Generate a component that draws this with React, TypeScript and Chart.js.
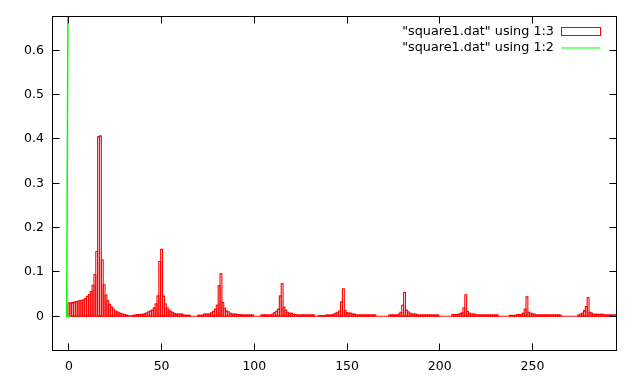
import React, { useEffect, useRef } from 'react';
import { Chart, registerables } from 'chart.js';

Chart.register(...registerables);

// ---- data -------------------------------------------------------------
const X_TICKS = [0, 50, 100, 150, 200, 250];
const Y_TICKS = [0, 0.1, 0.2, 0.3, 0.4, 0.5, 0.6];
const X_MIN = -8.84;
const X_MAX = 295.3;
const Y_MIN = -0.0772;
const Y_MAX = 0.6763;

const LABEL_COL3 = '"square1.dat" using 1:3';
const LABEL_COL2 = '"square1.dat" using 1:2';

// column 3 (boxes), one value per x = 0, 1, 2, ...
const COL3 = [
  0.030, 0.030, 0.031, 0.032, 0.033, 0.034, 0.035, 0.036, 0.037, 0.040,
  0.045, 0.049, 0.056, 0.070, 0.094, 0.146, 0.405, 0.407, 0.127, 0.071,
  0.048, 0.035, 0.027, 0.021, 0.016, 0.012, 0.010, 0.008, 0.006, 0.005,
  0.004, 0.003, 0.0015, 0, 0.0015, 0.002, 0.003, 0.004, 0.004, 0.004,
  0.0045, 0.006, 0.0076, 0.010, 0.012, 0.014, 0.019, 0.028, 0.046, 0.1235,
  0.151, 0.046, 0.028, 0.019, 0.0144, 0.011, 0.0083, 0.006, 0.005, 0.005,
  0.005, 0.005, 0.0025, 0.0023, 0.0023, 0.002, 0, 0, 0, 0,
  0.0023, 0.0023, 0.0023, 0.005, 0.005, 0.005, 0.005, 0.008, 0.011, 0.016,
  0.025, 0.069, 0.096, 0.031, 0.018, 0.012, 0.010, 0.007, 0.005, 0.005,
  0.005, 0.004, 0.004, 0.003, 0.003, 0.003, 0.003, 0.003, 0.003, 0.003,
  0, 0, 0, 0, 0.003, 0.003, 0.003, 0.003, 0.003, 0.003,
  0.0053, 0.0083, 0.0114, 0.016, 0.046, 0.0735, 0.0205, 0.014, 0.009, 0.0068,
  0.0068, 0.0045, 0.0045, 0.003, 0.003, 0.003, 0.003, 0.003, 0.003, 0.003,
  0.003, 0.003, 0.003, 0, 0, 0.0015, 0.0015, 0.0015, 0.0015, 0.003,
  0.003, 0.003, 0.003, 0.005, 0.007, 0.009, 0.012, 0.0326, 0.062, 0.013,
  0.008, 0.007, 0.007, 0.005, 0.005, 0.003, 0.003, 0.003, 0.003, 0.003,
  0.003, 0.003, 0.003, 0.003, 0.003, 0.003, 0, 0, 0, 0,
  0, 0, 0, 0.003, 0.003, 0.003, 0.003, 0.003, 0.005, 0.009,
  0.025, 0.054, 0.014, 0.010, 0.007, 0.005, 0.005, 0.005, 0.003, 0.003,
  0.003, 0.003, 0.003, 0.003, 0.003, 0.003, 0.003, 0.003, 0.003, 0.003,
  0, 0, 0, 0, 0, 0, 0, 0.004, 0.004, 0.004,
  0.004, 0.006, 0.008, 0.019, 0.0485, 0.011, 0.007, 0.005, 0.005, 0.005,
  0.003, 0.003, 0.003, 0.003, 0.003, 0.003, 0.003, 0.003, 0.003, 0.003,
  0.003, 0.003, 0, 0, 0, 0, 0, 0, 0.002, 0.002,
  0.002, 0.002, 0.004, 0.004, 0.004, 0.007, 0.016, 0.044, 0.009, 0.007,
  0.005, 0.005, 0.003, 0.003, 0.003, 0.003, 0.003, 0.003, 0.003, 0.003,
  0.003, 0.003, 0.003, 0.003, 0.003, 0.003, 0, 0, 0, 0,
  0, 0, 0, 0, 0, 0.003, 0.005, 0.007, 0.013, 0.022,
  0.042, 0.009, 0.007, 0.0045, 0.0045, 0.0045, 0.0045, 0.0045, 0.0045, 0.003,
  0.003, 0.003, 0.003, 0.003, 0.003, 0.003,
];

// column 2 (line)
const COL2_X = [0.8, -1.2, 0];
const COL2_Y = [0, 0, 1.2];

const RED = '#ff0000';
const GREEN = '#00ff00';
const FONT = 'DejaVu Sans';
const FONT_SIZE = 12.5;
const KEY_FONT_SIZE = 12.8;

// ---- plugins ----------------------------------------------------------
const boxesPlugin = {
  id: 'gnuBoxes',
  afterDatasetDraw(chart: any, args: any) {
    if (args.index !== 0) return;
    const { ctx, chartArea } = chart;
    const meta = chart.getDatasetMeta(0);
    ctx.save();
    ctx.beginPath();
    ctx.rect(chartArea.left, chartArea.top, chartArea.right - chartArea.left, chartArea.bottom - chartArea.top);
    ctx.clip();
    ctx.strokeStyle = RED;
    ctx.lineWidth = 1.1;
    meta.data.forEach((el: any) => {
      const p = el.getProps(['x', 'y', 'base', 'width'], true);
      ctx.strokeRect(p.x - p.width / 2, p.y, p.width, p.base - p.y);
    });
    ctx.restore();
  },
};

const framePlugin = {
  id: 'gnuFrame',
  afterDraw(chart: any) {
    const { ctx, chartArea, scales } = chart;
    const { left, right, top, bottom } = chartArea;
    const tl = 7;
    ctx.save();
    ctx.strokeStyle = '#000';
    ctx.lineWidth = 1;
    ctx.strokeRect(left, top, right - left, bottom - top);
    ctx.beginPath();
    Y_TICKS.forEach((v) => {
      const py = Math.round(scales.y.getPixelForValue(v) - 0.5) + 0.5;
      ctx.moveTo(left, py);
      ctx.lineTo(left + tl, py);
      ctx.moveTo(right, py);
      ctx.lineTo(right - tl, py);
    });
    X_TICKS.forEach((v) => {
      const px = Math.round(scales.x.getPixelForValue(v) - 0.5) + 0.5;
      ctx.moveTo(px, bottom);
      ctx.lineTo(px, bottom - tl);
      ctx.moveTo(px, top);
      ctx.lineTo(px, top + tl);
    });
    ctx.stroke();

    // key (top right)
    ctx.font = `${KEY_FONT_SIZE}px "${FONT}"`;
    ctx.fillStyle = '#000';
    ctx.textAlign = 'right';
    ctx.textBaseline = 'middle';
    const tx = right - 62.5;
    const y1 = top + 15;
    const y2 = top + 31;
    ctx.fillText(LABEL_COL3, tx, y1);
    ctx.fillText(LABEL_COL2, tx, y2);
    const sx0 = tx + 7.5;
    const sx1 = sx0 + 39;
    ctx.strokeStyle = RED;
    ctx.strokeRect(sx0, y1 - 4, sx1 - sx0, 8);
    ctx.strokeStyle = GREEN;
    ctx.beginPath();
    ctx.moveTo(sx0, y2 + 0.5);
    ctx.lineTo(sx1, y2 + 0.5);
    ctx.stroke();
    ctx.restore();
  },
};

// ---- component --------------------------------------------------------
export default function App() {
  const ref = useRef<HTMLCanvasElement | null>(null);

  useEffect(() => {
    if (!ref.current) return;
    Chart.defaults.font.family = FONT;
    Chart.defaults.font.size = FONT_SIZE;
    Chart.defaults.color = '#000';

    const boxData = COL3.map((v, i) => ({ x: i, y: v }));
    const lineData = COL2_X.map((x, i) => ({ x, y: COL2_Y[i] }));

    const chart = new Chart(ref.current, {
      type: 'bar',
      data: {
        datasets: [
          {
            type: 'bar',
            label: LABEL_COL3,
            data: boxData as any,
            backgroundColor: 'rgba(0,0,0,0)',
            borderWidth: 0,
            barPercentage: 1,
            categoryPercentage: 1,
            order: 2,
          },
          {
            type: 'line',
            label: LABEL_COL2,
            data: lineData as any,
            borderColor: GREEN,
            borderWidth: 1.5,
            pointRadius: 0,
            fill: false,
            tension: 0,
            order: 1,
          },
        ],
      },
      options: {
        animation: false,
        responsive: false,
        devicePixelRatio: 1,
        events: [],
        layout: { padding: { left: 0, right: 23.5, top: 16.5, bottom: 0 } },
        plugins: {
          legend: { display: false },
          tooltip: { enabled: false },
        },
        scales: {
          x: {
            type: 'linear',
            min: X_MIN,
            max: X_MAX,
            offset: false,
            grid: { display: false, drawTicks: false },
            border: { display: false },
            ticks: {
              padding: 9,
              maxRotation: 0,
              autoSkip: false,
              callback: (v: any) => String(v),
            },
            afterBuildTicks: (s: any) => {
              s.ticks = X_TICKS.map((v) => ({ value: v }));
            },
            afterFit: (s: any) => {
              s.height = 33.5;
            },
          },
          y: {
            type: 'linear',
            min: Y_MIN,
            max: Y_MAX,
            grid: { display: false, drawTicks: false },
            border: { display: false },
            ticks: {
              padding: 8.5,
              autoSkip: false,
              callback: (v: any) => String(v),
            },
            afterBuildTicks: (s: any) => {
              s.ticks = Y_TICKS.map((v) => ({ value: v }));
            },
            afterFit: (s: any) => {
              s.width = 52.5;
            },
          },
        },
      },
      plugins: [boxesPlugin, framePlugin],
    });

    return () => chart.destroy();
  }, []);

  return (
    <div style={{ position: 'fixed', left: 0, top: 0, width: 640, height: 384, background: '#fff' }}>
      <canvas ref={ref} width={640} height={384} />
    </div>
  );
}
